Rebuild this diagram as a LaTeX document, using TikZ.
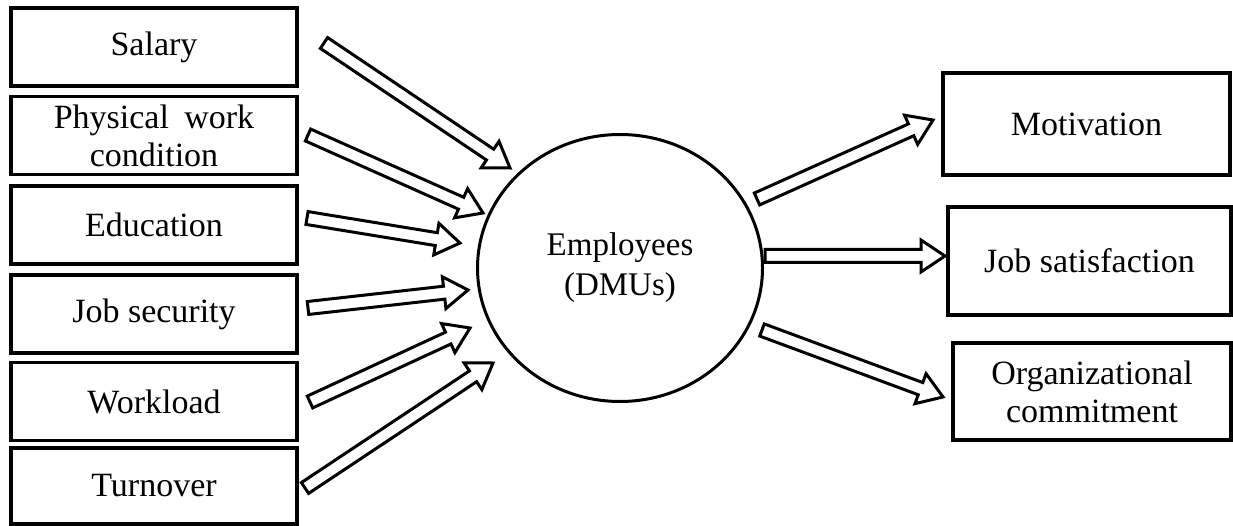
\documentclass[tikz,border=0pt]{standalone}
\usepackage{fontspec}
\setmainfont{Liberation Serif}
\usetikzlibrary{calc,shapes.geometric}
\tikzset{
  box/.style={draw, line width=3.5pt, align=center, inner sep=0pt,
    font=\fontsize{34}{38}\selectfont},
  lbox/.style={box, minimum width=286pt, minimum height=78pt},
  arr/.style={draw, line width=3pt, line join=miter, fill=white},
  hub/.style={ellipse, draw, line width=3pt, minimum width=285pt, minimum height=267pt,
    inner sep=0pt, align=center, font=\fontsize{33}{40}\selectfont}
}
\newcommand\blockarr[2]{%
  \coordinate (hd) at ($(#2)!24pt!(#1)$);
  \draw[arr] ($(#1)!6.5pt!90:(#2)$) -- ($(hd)!6.5pt!90:(#2)$) -- ($(hd)!16pt!90:(#2)$)
    -- (#2) -- ($(hd)!16pt!-90:(#2)$) -- ($(hd)!6.5pt!-90:(#2)$) -- ($(#1)!6.5pt!-90:(#2)$) -- cycle;}
\begin{document}
\begin{tikzpicture}[x=1pt,y=-1pt]
\useasboundingbox (0,0) rectangle (1233,526);
\node[lbox] (sal) at (154,47) {Salary};
\node[lbox] (phy) at (154,135.5) {Physical\hspace{0.45em}work\\condition};
\node[lbox] (edu) at (154,225) {Education};
\node[lbox] (job) at (154,314) {Job security};
\node[lbox] (wor) at (154,401.5) {Workload};
\node[lbox, minimum height=76pt] (tur) at (154,486) {Turnover};
\node[hub] (emp) at (620,268) {Employees\\(DMUs)};
\node[box, minimum width=287pt, minimum height=102pt] (mot) at (1086.5,124) {Motivation};
\node[box, minimum width=283pt, minimum height=108pt] (sat) at (1089.5,261) {Job satisfaction};
\node[box, minimum width=278pt, minimum height=97pt] (org) at (1092,391.5) {Organizational\\commitment};
\coordinate (salA) at (324,43);  \coordinate (salB) at (510,168);
\coordinate (phyA) at (308,135); \coordinate (phyB) at (483,213);
\coordinate (eduA) at (307,218); \coordinate (eduB) at (460,243);
\coordinate (jobA) at (308,308); \coordinate (jobB) at (468,290);
\coordinate (worA) at (310,402); \coordinate (worB) at (470,328);
\coordinate (turA) at (305,488); \coordinate (turB) at (493,363);
\coordinate (motA) at (757,199); \coordinate (motB) at (933,120);
\coordinate (satA) at (765,256); \coordinate (satB) at (945,256);
\coordinate (orgA) at (762,330); \coordinate (orgB) at (943,397);
\blockarr{salA}{salB}
\blockarr{phyA}{phyB}
\blockarr{eduA}{eduB}
\blockarr{jobA}{jobB}
\blockarr{worA}{worB}
\blockarr{turA}{turB}
\blockarr{motA}{motB}
\blockarr{satA}{satB}
\blockarr{orgA}{orgB}
\end{tikzpicture}
\end{document}
